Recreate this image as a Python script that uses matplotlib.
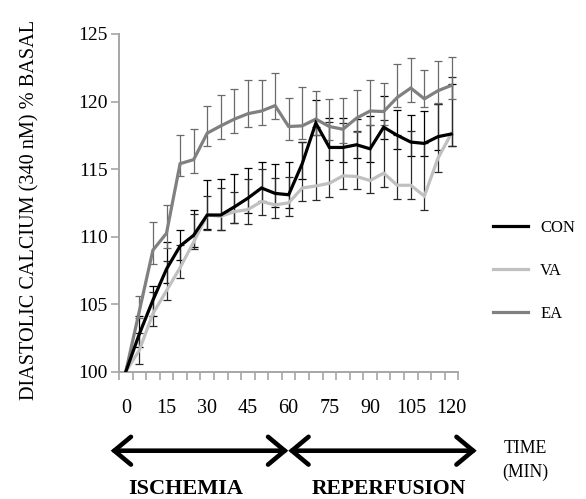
import matplotlib
matplotlib.use("Agg")
import matplotlib.pyplot as plt
from matplotlib.patches import FancyArrowPatch
import numpy as np

# Time points (min)
minutes = [0, 5, 10, 15, 20, 25, 30, 35, 40, 45, 50, 55, 60,
           65, 70, 75, 80, 85, 90, 95, 100, 105, 110, 115, 120]
xtick_values = [0, 15, 30, 45, 60, 75, 90, 105, 120]
xtick_labels = ["0", "15", "30", "45", "60", "75", "90", "105", "120"]
ytick_values = [100, 105, 110, 115, 120, 125]

# Diastolic calcium, % of basal
con = [100.0, 102.8, 105.3, 107.6, 109.3, 110.1, 111.6, 111.6, 112.2, 112.85,
       113.6, 113.2, 113.1, 115.4, 118.4, 116.6, 116.6, 116.8, 116.5, 118.1,
       117.5, 117.0, 116.9, 117.4, 117.6]
va = [100.0, 101.6, 104.3, 106.0, 107.7, 109.6, 111.6, 111.5, 111.85, 112.0,
      112.6, 112.35, 112.5, 113.6, 113.75, 113.95, 114.5, 114.45, 114.15, 114.7,
      113.8, 113.8, 113.0, 115.8, 117.65]
ea = [100.0, 104.5, 109.0, 110.25, 115.4, 115.7, 117.66, 118.2, 118.7, 119.1,
      119.3, 119.7, 118.15, 118.2, 118.7, 118.15, 117.95, 118.77, 119.3, 119.26,
      120.3, 121.0, 120.2, 120.8, 121.2]

# Error bars (upper / lower)
con_hi = [0, 1.35, 1.05, 2.0, 1.2, 1.9, 2.6, 2.7, 2.4, 2.2, 1.95, 2.2, 2.4,
          1.6, 1.7, 2.2, 2.2, 1.9, 2.4, 2.3, 1.9, 2.0, 2.4, 2.4, 3.7]
con_lo = [0, 1.0, 1.2, 1.0, 1.0, 0.9, 1.0, 1.1, 1.2, 1.1, 1.0, 1.0, 1.0,
          1.15, 0.9, 0.9, 1.05, 1.0, 1.0, 0.9, 1.0, 1.0, 0.9, 1.0, 0.9]
va_hi = [0, 1.25, 1.6, 2.2, 1.7, 2.1, 1.4, 2.1, 1.45, 2.3, 2.4, 2.0, 1.9,
         3.4, 4.4, 4.55, 3.9, 3.35, 4.15, 3.9, 3.7, 4.05, 3.9, 4.0, 4.15]
va_lo = [0, 1.0, 0.9, 0.7, 0.8, 0.5, 1.1, 1.0, 0.85, 1.1, 1.0, 1.0, 1.0,
         1.0, 1.05, 1.05, 1.0, 0.95, 0.95, 1.0, 1.0, 1.0, 1.0, 1.0, 0.95]
ea_hi = [0, 1.1, 2.1, 2.1, 2.1, 2.3, 2.0, 2.3, 2.2, 2.5, 2.3, 2.4, 2.1,
         2.9, 2.1, 2.05, 2.3, 2.1, 2.3, 2.1, 2.5, 2.2, 2.1, 2.2, 2.1]
ea_lo = [0, 0.5, 1.0, 1.1, 0.9, 1.0, 0.95, 0.95, 1.0, 0.95, 1.0, 1.0, 1.0,
         1.0, 1.2, 1.0, 1.0, 1.0, 1.0, 1.0, 0.7, 1.0, 0.6, 0.9, 1.0]

series = [
    ("CON", con, con_lo, con_hi, "#000000", "#000000"),
    ("VA", va, va_lo, va_hi, "#c0c0c0", "#2a2a2a"),
    ("EA", ea, ea_lo, ea_hi, "#808080", "#6a6a6a"),
]

FONT = "Liberation Serif"
plt.rcParams["font.family"] = [FONT, "DejaVu Serif"]

W, H = 586, 499
fig = plt.figure(figsize=(W / 100, H / 100), dpi=100)
x0, x1, ytop, ybot = 119, 458.3, 34, 371.7
ax = fig.add_axes([x0 / W, 1 - ybot / H, (x1 - x0) / W, (ybot - ytop) / H])

# error bars underneath the lines
for name, vals, lo, hi, lc, ec in series:
    ax.errorbar(minutes[1:], vals[1:], yerr=[lo[1:], hi[1:]], fmt="none",
                ecolor=ec, elinewidth=0.9, capsize=3.2, capthick=0.9, zorder=1)

handles = {}
for z, (name, vals, lo, hi, lc, ec) in zip([2, 3, 4], series[::-1]):
    (ln,) = ax.plot(minutes, vals, color=lc, lw=2.3, zorder=z,
                    solid_joinstyle="miter")
    handles[name] = ln

ax.set_xlim(-2.5, 122.5)
ax.set_ylim(100, 125)
ax.set_yticks(ytick_values)
ax.set_yticklabels([str(v) for v in ytick_values])
ax.set_xticks(xtick_values)
ax.set_xticklabels(xtick_labels)
ax.set_xticks(np.arange(-2.5, 123, 5), minor=True)

spine_c = "#a6a6a6"
for s in ("top", "right"):
    ax.spines[s].set_visible(False)
for s in ("left", "bottom"):
    ax.spines[s].set_color(spine_c)
    ax.spines[s].set_linewidth(1.4)

ax.tick_params(axis="y", which="major", direction="out", length=5.5, width=1.2,
               color=spine_c, labelsize=14, pad=2.5)
ax.tick_params(axis="x", which="major", length=0, labelsize=14.5, pad=20)
ax.tick_params(axis="x", which="minor", direction="out", length=5.5, width=1.2,
               color=spine_c)

fig.text(30 / W, 1 - 210 / H, "DIASTOLIC CALCIUM (340 nM) % BASAL",
         rotation=90, ha="center", va="center", fontsize=14.6)

fig.legend([handles["CON"], handles["VA"], handles["EA"]], ["CON", "VA", "EA"],
           loc="center left", bbox_to_anchor=(492.7 / W, 1 - 271 / H),
           bbox_transform=fig.transFigure, frameon=False, fontsize=12,
           handlelength=2.1, handletextpad=0.75, labelspacing=1.62,
           borderpad=0, borderaxespad=0)

# phase arrows
ya = 1 - 450.7 / H
for xa, xb in [(110.7, 288.3), (288.3, 476.7)]:
    arr = FancyArrowPatch((xa / W, ya), (xb / W, ya), transform=fig.transFigure,
                          arrowstyle="<->,head_length=0.6,head_width=0.5",
                          mutation_scale=20, lw=3.3, color="black",
                          shrinkA=0, shrinkB=0, capstyle="round",
                          joinstyle="miter")
    fig.add_artist(arr)

fig.text(186 / W, 1 - 489 / H, "ISCHEMIA", ha="center", va="center",
         fontsize=16, fontweight="bold")
fig.text(389 / W, 1 - 489 / H, "REPERFUSION", ha="center", va="center",
         fontsize=15.6, fontweight="bold")
fig.text(525 / W, 1 - 460.5 / H, "TIME\n(MIN)", ha="center", va="center",
         fontsize=12.8, linespacing=1.55)

fig.savefig("out.png", dpi=100)
